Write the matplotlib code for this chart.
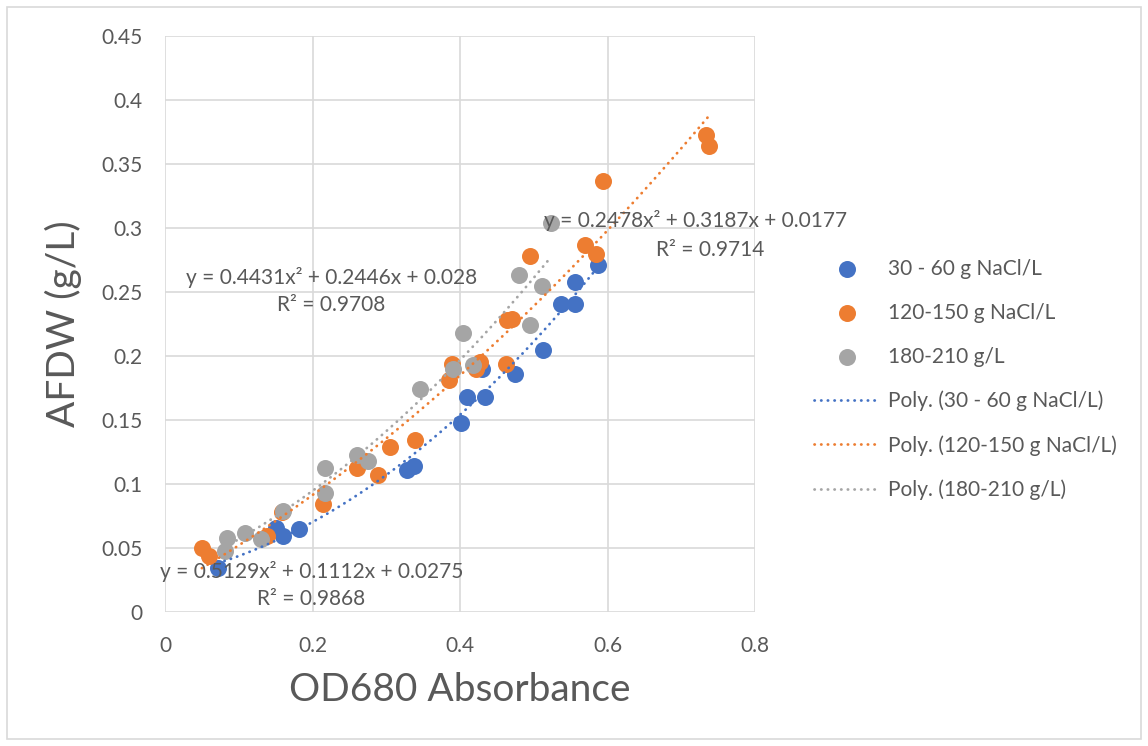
import matplotlib
matplotlib.use("Agg")
import matplotlib.pyplot as plt
import numpy as np
from matplotlib.patches import Rectangle

plt.rcParams['font.family'] = ['Lato', 'DejaVu Sans']

# --- data ---
blue_x = [0.072, 0.150, 0.160, 0.182, 0.328, 0.338, 0.402, 0.409, 0.434, 0.430,
          0.475, 0.513, 0.537, 0.556, 0.556, 0.587]
blue_y = [0.034, 0.066, 0.059, 0.065, 0.111, 0.114, 0.148, 0.168, 0.168, 0.190,
          0.186, 0.205, 0.241, 0.241, 0.258, 0.271]

orange_x = [0.050, 0.060, 0.138, 0.158, 0.214, 0.260, 0.289, 0.305, 0.339, 0.385,
            0.389, 0.422, 0.427, 0.463, 0.464, 0.470, 0.495, 0.569, 0.585, 0.594,
            0.734, 0.737]
orange_y = [0.050, 0.044, 0.059, 0.078, 0.084, 0.1125, 0.107, 0.129, 0.134, 0.181,
            0.194, 0.190, 0.195, 0.194, 0.228, 0.229, 0.278, 0.287, 0.280, 0.337,
            0.373, 0.364]

gray_x = [0.081, 0.084, 0.108, 0.130, 0.160, 0.217, 0.217, 0.260, 0.275, 0.346,
          0.391, 0.404, 0.417, 0.480, 0.495, 0.511, 0.523]
gray_y = [0.048, 0.058, 0.062, 0.057, 0.079, 0.093, 0.1125, 0.123, 0.118, 0.174,
          0.190, 0.218, 0.193, 0.263, 0.224, 0.255, 0.304]

# trendline coefficients as printed on the chart
blue_poly = [0.5129, 0.1112, 0.0275]
orange_poly = [0.2478, 0.3187, 0.0177]
gray_poly = [0.4431, 0.2446, 0.028]
blue_r2, orange_r2, gray_r2 = "0.9868", "0.9714", "0.9708"

labels = ["30 - 60 g NaCl/L", "120-150 g NaCl/L", "180-210 g/L"]
colors = ["#4472C4", "#ED7D31", "#A5A5A5"]
txt = "#595959"

fig = plt.figure(figsize=(11.48, 7.46), dpi=100)
ax = fig.add_axes([165/1148, 1-612/746, 590/1148, 576/746])

series = [(blue_x, blue_y, blue_poly), (orange_x, orange_y, orange_poly), (gray_x, gray_y, gray_poly)]
handles_pts = []
handles_ln = []
for i, (xs, ys, p) in enumerate(series):
    h = ax.scatter(xs, ys, s=150, color=colors[i], zorder=3 + i, linewidths=0)
    handles_pts.append(h)
for i, (xs, ys, p) in enumerate(series):
    xx = np.linspace(min(xs), max(xs), 200)
    ln, = ax.plot(xx, np.polyval(p, xx), color=colors[i], lw=2.0,
                  linestyle=(0, (0.1, 2.3)), dash_capstyle='round', zorder=7)
    handles_ln.append(ln)

ax.set_xlim(0, 0.8)
ax.set_ylim(0, 0.45)
ax.set_xticks(np.arange(0, 0.81, 0.2))
ax.set_xticklabels(["0", "0.2", "0.4", "0.6", "0.8"])
ax.set_yticks(np.arange(0, 0.451, 0.05))
ax.set_yticklabels(["0", "0.05", "0.1", "0.15", "0.2", "0.25", "0.3", "0.35", "0.4", "0.45"])
ax.grid(True, color="#D9D9D9", lw=1.2, zorder=0)
ax.set_axisbelow(True)
for s in ax.spines.values():
    s.set_visible(False)
ax.tick_params(length=0, labelsize=15, colors=txt)
ax.tick_params(axis='y', pad=16)
ax.tick_params(axis='x', pad=17)
ax.set_xlabel("OD680 Absorbance", fontsize=28, color=txt, labelpad=12)
ax.set_ylabel("AFDW (g/L)", fontsize=28, color=txt, labelpad=14)

fs = 15
ax.text(0.1986, 0.032, "y = 0.5129x² + 0.1112x + 0.0275", fontsize=fs, color=txt, ha='center', va='center', zorder=10)
ax.text(0.1986, 0.0102, "R² = " + blue_r2, fontsize=fs, color=txt, ha='center', va='center', zorder=10)
ax.text(0.2258, 0.2617, "y = 0.4431x² + 0.2446x + 0.028", fontsize=fs, color=txt, ha='center', va='center', zorder=10)
ax.text(0.2258, 0.2398, "R² = " + gray_r2, fontsize=fs, color=txt, ha='center', va='center', zorder=10)
ax.text(0.7193, 0.3055, "y = 0.2478x² + 0.3187x + 0.0177", fontsize=fs, color=txt, ha='center', va='center', zorder=10)
ax.text(0.739, 0.2828, "R² = " + orange_r2, fontsize=fs, color=txt, ha='center', va='center', zorder=10)

leg_labels = labels + ["Poly. (" + l + ")" for l in labels]
fig.legend(handles_pts + handles_ln, leg_labels, loc='upper left',
           bbox_to_anchor=(795/1148, 1-240/746), frameon=False, fontsize=15,
           labelcolor=txt, labelspacing=1.15, handlelength=3.2, handletextpad=0.35,
           scatterpoints=1)

fig.patches.append(Rectangle((7/1148, 7/746), 1-14/1148, 1-14/746, transform=fig.transFigure,
                             fill=False, edgecolor="#D9D9D9", lw=1.2))

fig.savefig("out.png", dpi=100)
